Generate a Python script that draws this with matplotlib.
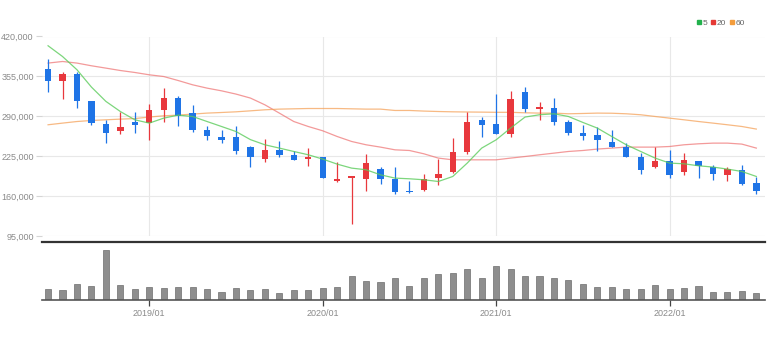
import numpy as np
import pandas as pd
import matplotlib
matplotlib.use("Agg")
from matplotlib import pyplot as plt
from matplotlib.lines import Line2D
from matplotlib.ticker import FuncFormatter

plt.rcParams['font.family'] = ['Liberation Sans Narrow', 'Liberation Sans', 'DejaVu Sans']

# monthly candles, 2018/06 .. 2022/07
months = pd.date_range('2018-06-01', periods=50, freq='MS')

opens = [366900, 346700, 359700, 315300, 277300, 265900, 280600, 278300, 300600, 319000,
         294600, 267500, 255500, 256100, 239800, 220800, 234300, 226800, 220300, 224000,
         183800, 189300, 188200, 204000, 187700, 169100, 169800, 188700, 199600, 231700,
         284300, 276700, 261000, 328800, 301700, 303900, 279900, 262600, 259400, 248500,
         239800, 224000, 206600, 216400, 198500, 216400, 207300, 194700, 202400, 181700]
highs = [383200, 361400, 361400, 315300, 283200, 297800, 296800, 309900, 336400, 322300,
         309200, 274500, 268000, 274500, 242000, 253400, 250100, 232700, 238200, 224000,
         215400, 193100, 228900, 208200, 207300, 185400, 196300, 220300, 254500, 296800,
         289200, 326700, 331100, 337600, 312500, 319700, 284300, 276200, 272400, 268000,
         246300, 231000, 239800, 234300, 230000, 217500, 211000, 208200, 211000, 191900]
lows = [328800, 318000, 304300, 275700, 247300, 261500, 262600, 251700, 279900, 273400,
        264300, 251700, 246300, 228900, 208200, 215900, 224000, 218000, 209400, 189300,
        183300, 114900, 168200, 179600, 163300, 164900, 168200, 177300, 196900, 228900,
        256100, 261000, 256100, 296800, 284300, 275700, 259900, 250600, 232700, 239800,
        223500, 196300, 205600, 188700, 194200, 188700, 186600, 185400, 178000, 163800]
closes = [347800, 358800, 315700, 278300, 263600, 272400, 276200, 300100, 319000, 290800,
          268000, 258200, 251700, 233300, 224500, 234900, 226200, 219100, 223500, 190300,
          187100, 193100, 214300, 187100, 165900, 165900, 188200, 195200, 232200, 281500,
          276200, 261500, 318500, 301700, 305000, 279900, 262000, 258700, 251200, 240800,
          224500, 202900, 216400, 194700, 219600, 209400, 196300, 204000, 180100, 168700]

ma5 = [404900, 387400, 365800, 337600, 314300, 297800, 284300, 278900, 287000, 291900,
       289700, 281500, 273400, 265200, 252000, 243600, 238200, 232700, 227300, 220300,
       212100, 205600, 202900, 194700, 189300, 188200, 186600, 183800, 192000, 213800,
       238200, 251700, 270800, 288800, 292500, 294100, 289700, 280000, 270800, 257100,
       243600, 232700, 221900, 213800, 212600, 209400, 207300, 204000, 200100, 192000]
ma20 = [376700, 379300, 376700, 372300, 368500, 364600, 361400, 357600, 354800, 348300,
        341300, 335900, 331500, 326200, 319700, 308700, 295200, 281500, 273400, 266400,
        257100, 249000, 243600, 239800, 235400, 234300, 228900, 221900, 219100, 219100,
        219100, 219100, 221900, 224500, 227300, 230000, 232700, 234300, 236600, 238200,
        239800, 239800, 239800, 240800, 243600, 245200, 246300, 246300, 244700, 238200]
ma60 = [276200, 278900, 281500, 283200, 284300, 285400, 286300, 288800, 290800, 291900,
        293600, 295200, 296200, 297300, 298900, 300600, 301700, 302200, 302700, 302700,
        302700, 302200, 301700, 301700, 299500, 299500, 298500, 297800, 297300, 297000,
        296800, 296500, 296500, 295700, 295200, 295200, 294100, 294600, 295200, 295000,
        294100, 292500, 289700, 287000, 284300, 281500, 278900, 276200, 273400, 269200]

volumes = [11000, 9300, 15700, 13300, 50000, 14700, 11000, 13000, 11300, 12300,
           13000, 10700, 7700, 12000, 9300, 10700, 7000, 9300, 9300, 12000,
           13000, 23300, 19000, 17700, 21300, 14000, 21300, 26000, 27000, 30700,
           21700, 33700, 30700, 23300, 24000, 21700, 20000, 16000, 12300, 13000,
           10700, 10700, 14300, 10700, 11300, 14000, 7700, 7700, 8300, 6700]

UP = '#e8383d'
DOWN = '#1f74e6'

x = np.arange(len(months))
o, h, l, c = map(np.array, (opens, highs, lows, closes))
colors = np.where(c >= o, UP, DOWN)
year_idx = [i for i, m in enumerate(months) if m.month == 1]

fig = plt.figure(figsize=(7.79, 3.37), dpi=100)
W, H = 779, 337
left, right = 42 / W, 765 / W
ax = fig.add_axes([left, 1 - 236 / H, right - left, 199.5 / H])
vax = fig.add_axes([left, 1 - 299.5 / H, right - left, 57.5 / H], sharex=ax)

# price panel
ax.vlines(x, l, h, colors=colors, lw=0.9, zorder=3)
body_lo = np.minimum(o, c)
body_h = np.maximum(np.abs(c - o), 1200)
ax.bar(x, body_h, bottom=body_lo, width=0.44, color=colors, lw=0, zorder=4)

ax.plot(x, ma5, color='#5ccc5c', lw=0.9, alpha=0.8, zorder=5)
ax.plot(x, ma20, color='#ee6f6f', lw=0.9, alpha=0.7, zorder=2)
ax.plot(x, ma60, color='#f5a25a', lw=0.9, alpha=0.75, zorder=2)

ax.set_xlim(-0.42, 49.6)
ax.set_ylim(95000, 420000)
ax.set_yticks(np.arange(95000, 420001, 65000))
ax.yaxis.set_major_formatter(FuncFormatter(lambda v, _: f'{int(v):,}'))
ax.set_xticks(year_idx)
ax.grid(True, color='#e8e8e8', lw=0.8, zorder=0)
ax.tick_params(axis='y', length=4, color='#d5d5d5', labelcolor='#8a8a8a',
               labelsize=6.5, pad=2)
ax.tick_params(axis='x', length=0, labelbottom=False)
for s in ax.spines.values():
    s.set_visible(False)

# volume panel
vax.bar(x, volumes, width=0.42, color='#8e8e8e', edgecolor='#6e6e6e', lw=0.5)
vax.set_ylim(0, 57500)
vax.set_yticks([])
vax.set_xticks(year_idx)
vax.set_xticklabels([months[i].strftime('%Y/%m') for i in year_idx])
vax.tick_params(axis='x', length=4, width=0.9, color='#444444',
                labelcolor='#8a8a8a', labelsize=6.5, pad=3)
for side in ('left', 'right'):
    vax.spines[side].set_visible(False)
vax.spines['top'].set_color('#333333')
vax.spines['top'].set_linewidth(1.6)
vax.spines['bottom'].set_color('#555555')
vax.spines['bottom'].set_linewidth(1.2)

handles = [Line2D([], [], ls='', marker='s', ms=3.5, color=col)
           for col in ('#22b14c', '#e53935', '#f39c3c')]
fig.legend(handles, ['5', '20', '60'], ncol=3, loc='center right',
           bbox_to_anchor=(749 / W, 1 - 23 / H), frameon=False, fontsize=6,
           handlelength=0.5, handletextpad=0.15, columnspacing=0.5,
           borderpad=0, labelcolor='#666666')

fig.savefig('out.png', dpi=100)
